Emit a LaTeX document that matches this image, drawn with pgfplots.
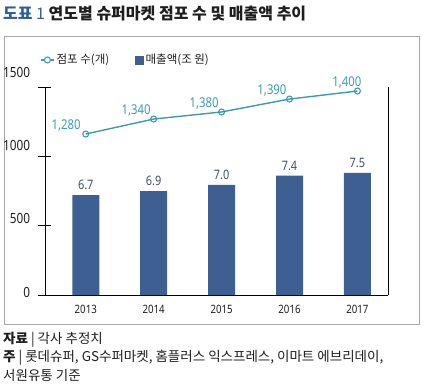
\documentclass[border=0pt]{standalone}
\usepackage{fontspec}
\setmainfont{Noto Sans CJK KR}
\newfontfamily\numfont[FakeStretch=0.84]{Noto Sans}
\usepackage{pgfplots}
\pgfplotsset{compat=1.18}
\usepackage{pgfplotstable}
\definecolor{barblue}{HTML}{3E5F92}
\definecolor{lineteal}{HTML}{3A9BB2}
\definecolor{titleblue}{HTML}{2F5D9A}
\definecolor{barlbl}{HTML}{3F4D6E}
\definecolor{boxgray}{HTML}{A8A8A8}
\definecolor{txt}{HTML}{1E1E1E}

\pgfplotstableread{
x  y     lbl
0  720   6.7
1  750   6.9
2  795   7.0
3  860   7.4
4  880   7.5
}\sales
\pgfplotstableread{
x  y     lbl
0  1161  1,280
1  1269  1,340
2  1320  1,380
3  1413  1,390
4  1471  1,400
}\stores

\begin{document}
\begin{tikzpicture}
\useasboundingbox (0bp,0bp) rectangle (423bp,-388bp);
\draw[boxgray, line width=0.9bp] (4bp,-36bp) rectangle (419bp,-324bp);
\node[anchor=west, inner sep=0, font=\fontsize{16bp}{18bp}\selectfont] at (3bp,-13.5bp)
  {\textcolor{titleblue}{\textbf{도표} 1} \textcolor{txt}{\textbf{연도별 슈퍼마켓 점포 수 및 매출액 추이}}};
\node[anchor=west, inner sep=0, text=txt, font=\fontsize{13.5bp}{15bp}\selectfont] at (3bp,-340bp)
  {\textbf{자료} \textcolor{txt}{|} 각사 추정치};
\node[anchor=west, inner sep=0, text=txt, font=\fontsize{13.5bp}{15bp}\selectfont] at (3bp,-357.5bp)
  {\textbf{주} \textcolor{txt}{|} 롯데슈퍼, GS수퍼마켓, 홈플러스 익스프레스, 이마트 에브리데이,};
\node[anchor=west, inner sep=0, text=txt, font=\fontsize{13.5bp}{15bp}\selectfont] at (3bp,-375bp)
  {서원유통 기준};
\begin{axis}[
  at={(45bp,-295bp)}, anchor=south west,
  scale only axis, width=343bp, height=208bp,
  xmin=-0.6, xmax=4.45, ymin=0, ymax=1500,
  axis x line*=bottom, axis y line*=left,
  axis line style={black, line width=0.9bp, -},
  xtick={0,1,2,3,4}, xticklabels={2013,2014,2015,2016,2017},
  xtick style={draw=none},
  xticklabel style={font=\numfont\fontsize{11.5bp}{13bp}\selectfont, text=txt, yshift=0bp},
  ytick={0,500,1000,1500},
  ytick style={black, line width=0.9bp},
  tick align=center, major tick length=13bp,
  yticklabel={\raisebox{\dimexpr 3.7bp*\ticknum-2bp\relax}{\pgfmathprintnumber{\tick}}},
  yticklabel style={font=\numfont\fontsize{14bp}{16bp}\selectfont, text=txt, anchor=base east, xshift=-5bp},
  /pgf/number format/assume math mode=true,
  /pgf/number format/set thousands separator={},
  clip=false,
  legend style={at={(-0.0146,1.13)}, anchor=west, draw=none, fill=none, inner sep=0pt,
    font=\fontsize{11.5bp}{13bp}\selectfont, text=txt,
    /tikz/every even column/.append style={column sep=24bp}},
  legend columns=2, legend cell align=left,
]
\addplot[ybar, bar width=27bp, fill=barblue, draw=none, forget plot,
  point meta=explicit symbolic, nodes near coords,
  every node near coord/.append style={font=\numfont\fontsize{13bp}{15bp}\selectfont, text=barlbl, anchor=south, yshift=2bp}]
  table[x=x, y=y, meta=lbl] {\sales};
\addplot[lineteal, line width=1.4bp, mark=o, mark size=3bp,
  mark options={fill=white, line width=1.1bp}, forget plot,
  point meta=explicit symbolic, nodes near coords,
  every node near coord/.append style={font=\numfont\fontsize{13.5bp}{15bp}\selectfont, text=lineteal, anchor=south east, inner sep=2.5bp},
  coordinate style/.condition={x==0}{anchor=east, inner sep=3bp, xshift=-2bp},
  coordinate style/.condition={x==4}{xshift=7bp}]
  table[x=x, y=y, meta=lbl] {\stores};
\draw[black, line width=0.9bp] (rel axis cs:1,0) -- (rel axis cs:1,1);
\addlegendimage{legend image code/.code={
  \draw[lineteal, line width=1.4bp] (0bp,0bp) -- (13bp,0bp);
  \draw[lineteal, line width=1.1bp, fill=white] (6.5bp,0bp) circle (3bp);}}
\addlegendentry{점포 수(개)}
\addlegendimage{legend image code/.code={
  \fill[barblue] (0bp,-4bp) rectangle (8bp,4bp);}}
\addlegendentry{매출액(조 원)}
\end{axis}
\end{tikzpicture}
\end{document}
